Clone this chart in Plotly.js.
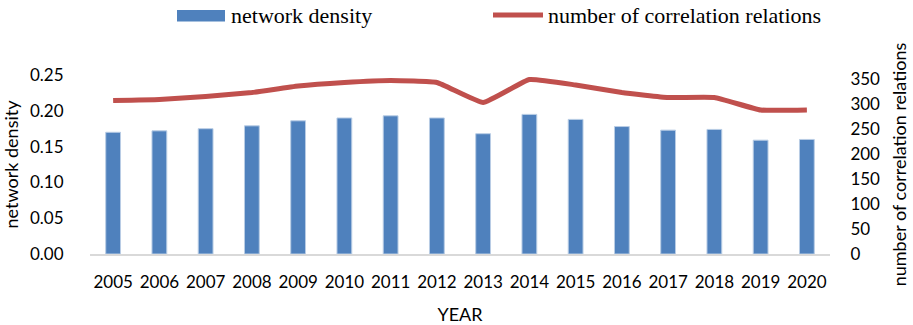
<!DOCTYPE html>
<html><head><meta charset="utf-8">
<script src="https://cdn.plot.ly/plotly-3.0.1.min.js"></script>
<style>html,body{margin:0;padding:0;background:#fff}</style>
</head><body>
<div id="chart" style="width:913px;height:325px"></div>
<script>
const years = ['2005','2006','2007','2008','2009','2010','2011','2012','2013','2014','2015','2016','2017','2018','2019','2020'];
const networkDensity = [0.170,0.172,0.175,0.179,0.186,0.190,0.193,0.190,0.168,0.195,0.188,0.178,0.173,0.174,0.159,0.160];
const correlationRelations = [307,309,315,323,336,343,347,343,303,349,338,323,313,313,288,288];
const leftTicks = [0,0.05,0.10,0.15,0.20,0.25];
const rightTicks = [0,50,100,150,200,250,300,350];

const fam = 'Lato, Calibri, sans-serif';
const tickFont = {family:fam, size:17, color:'#000'};
const traces = [
  {type:'bar', x:years, y:networkDensity, name:'network density', yaxis:'y',
   marker:{color:'#4F81BD', line:{color:'#B9CDE5', width:1}}, showlegend:false},
  {type:'scatter', mode:'lines', x:years, y:correlationRelations, name:'number of correlation relations', yaxis:'y2',
   line:{color:'#C0504D', width:5, shape:'spline', smoothing:0.35}, showlegend:false}
];
const layout = {
  width:913, height:325,
  margin:{l:90, r:83, t:75, b:71},
  paper_bgcolor:'#fff', plot_bgcolor:'#fff',
  bargap:0.68,
  xaxis:{type:'category', showline:true, linecolor:'#D9D9D9', linewidth:2, showgrid:false, zeroline:false,
    ticks:'outside', ticklen:12, tickcolor:'rgba(0,0,0,0)', tickfont:tickFont,
    title:{text:'YEAR', font:{family:fam, size:18, color:'#000'}, standoff:17}},
  yaxis:{range:[0,0.25], tickvals:leftTicks, ticktext:leftTicks.map(v=>v.toFixed(2)), showgrid:false, zeroline:false,
    showline:false, ticks:'outside', ticklen:22, tickcolor:'rgba(0,0,0,0)', tickfont:tickFont,
    title:{text:'network density', font:{family:fam, size:18, color:'#000'}, standoff:6}},
  yaxis2:{range:[0,358], overlaying:'y', side:'right', tickvals:rightTicks, ticktext:rightTicks.map(String),
    showgrid:false, zeroline:false, showline:false, ticks:'outside', ticklen:16, tickcolor:'rgba(0,0,0,0)', tickfont:tickFont,
    title:{text:'number of correlation relations', font:{family:fam, size:18, color:'#000'}, standoff:14}},
  shapes:[
    {type:'rect', xref:'paper', yref:'paper', x0:(177-90)/740, x1:(225-90)/740, y0:(254-21.5)/179, y1:(254-10)/179,
     fillcolor:'#4F81BD', line:{width:0}},
    {type:'line', xref:'paper', yref:'paper', x0:(493-90)/740, x1:(543-90)/740, y0:(254-15)/179, y1:(254-15)/179,
     line:{color:'#C0504D', width:5}}
  ],
  annotations:[
    {xref:'paper', yref:'paper', x:(229-90)/740, y:(254-16)/179, xanchor:'left', yanchor:'middle', showarrow:false,
     text:'network density', font:{family:'Liberation Serif, Times New Roman, serif', size:22, color:'#000'}},
    {xref:'paper', yref:'paper', x:(546-90)/740, y:(254-16)/179, xanchor:'left', yanchor:'middle', showarrow:false,
     text:'number of correlation relations', font:{family:'Liberation Serif, Times New Roman, serif', size:22, color:'#000'}}
  ]
};
Plotly.newPlot('chart', traces, layout, {displayModeBar:false, staticPlot:true});
</script>
</body></html>
